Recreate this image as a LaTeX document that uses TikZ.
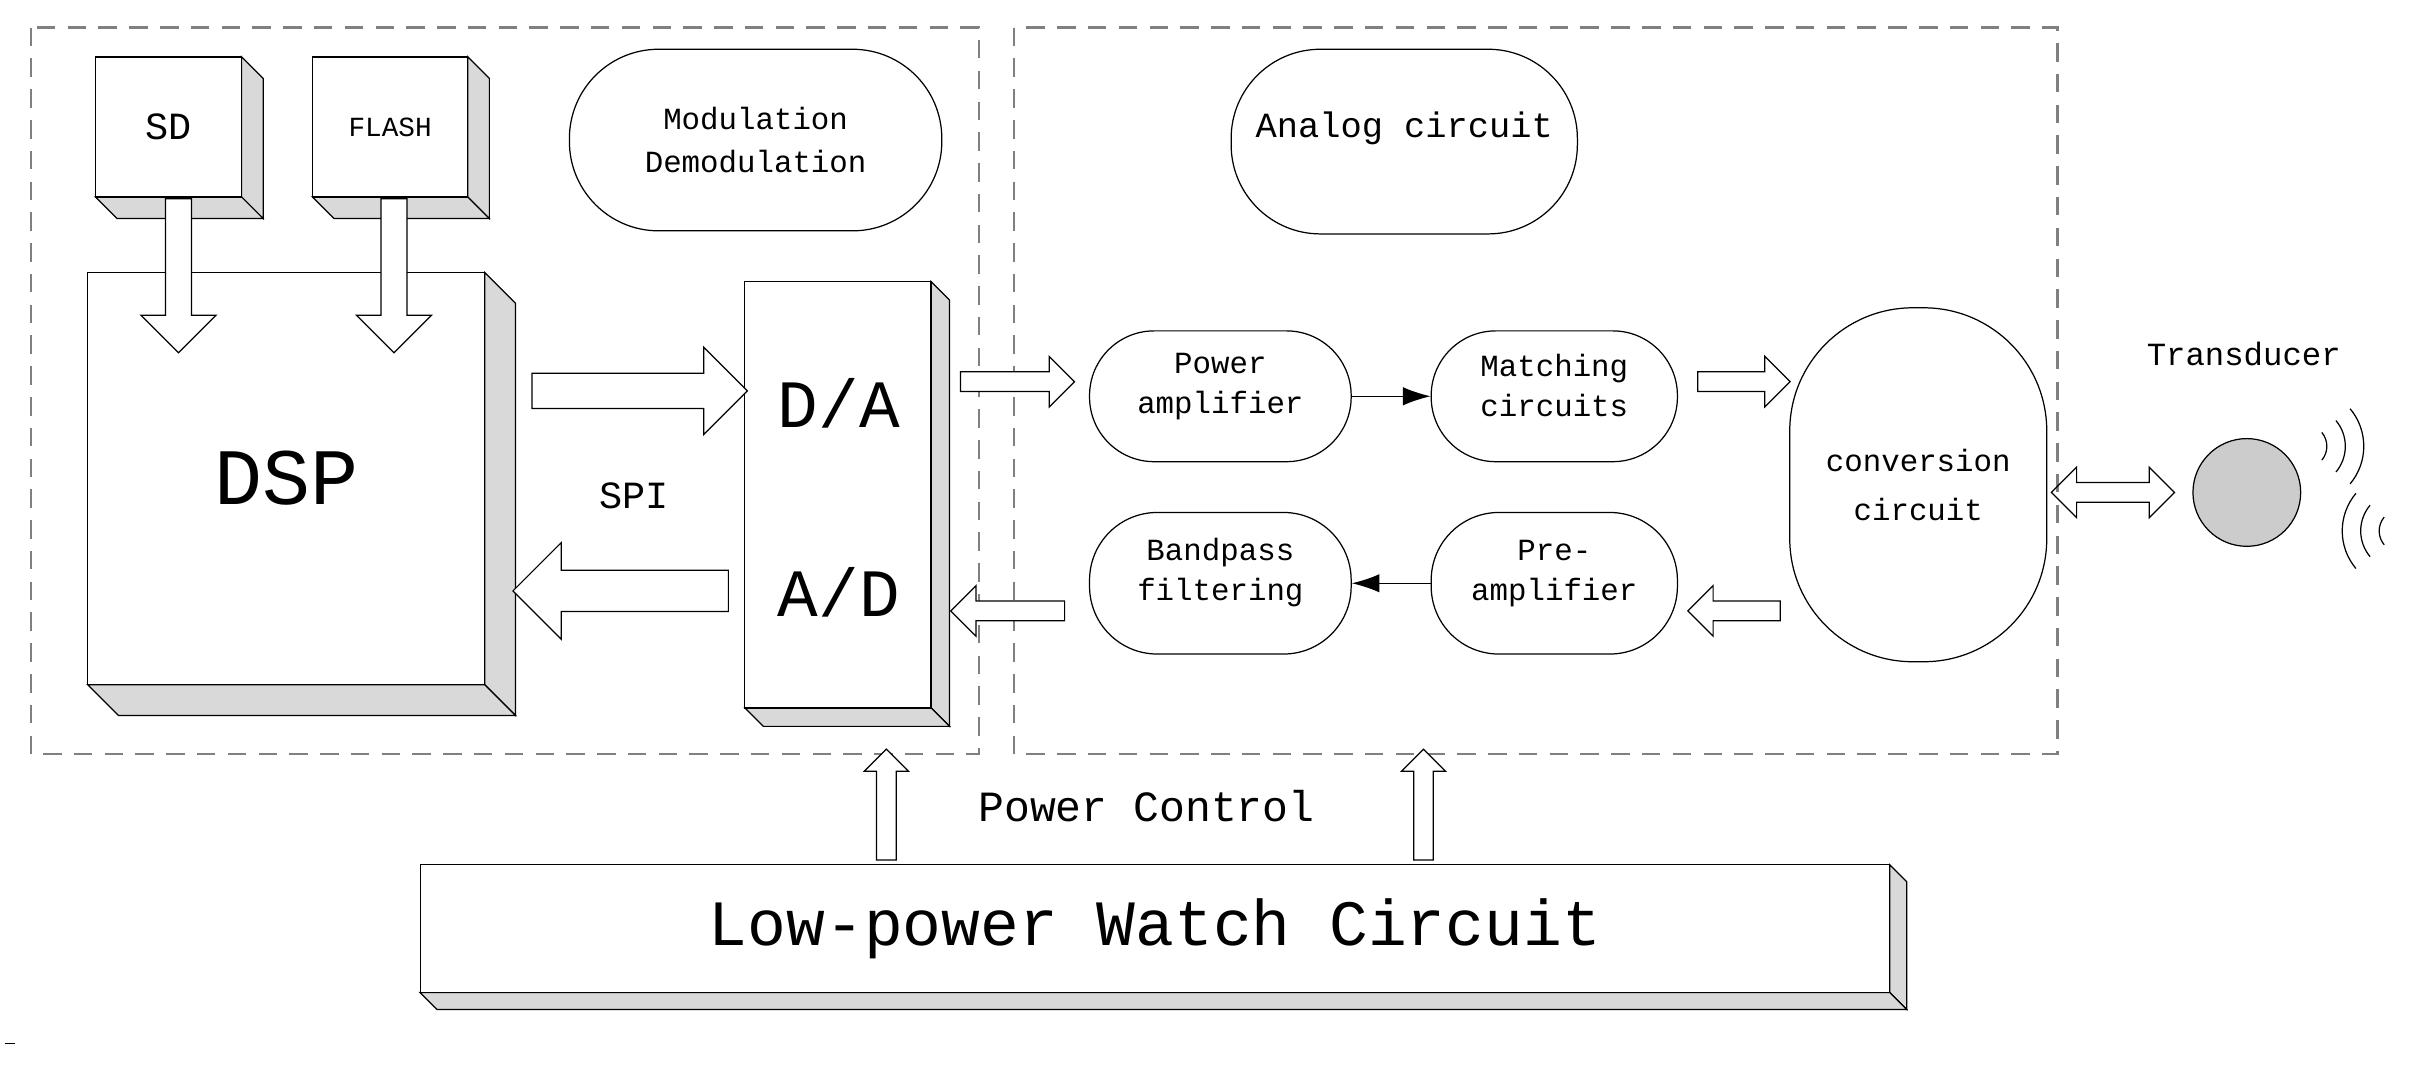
\documentclass[tikz,border=0pt]{standalone}
\usepackage{fontspec}
\setmainfont{Liberation Mono}
\usetikzlibrary{shapes.arrows,fit,positioning,arrows.meta}

\tikzset{
  blk/.style={draw, fill=white, inner sep=0pt},
  side/.style={draw, fill=gray!30},
  blob/.style={draw, rounded corners=#1, inner sep=0pt, align=center, font=\fontsize{10}{13}\selectfont},
  fatr/.style={draw, fill=white, single arrow, inner sep=#1, single arrow head indent=0pt},
  zone/.style={draw=gray, dashed, dash pattern=on 6pt off 4pt, thick},
}

% 3d box: name, x1, y1, x2, y2, depth
\newcommand{\boxthree}[6]{%
  \draw[side] (#4,#3) -- ++(#6,#6) -- (#4+#6,#5+#6) -- (#4,#5) -- cycle;
  \draw[side] (#2,#5) -- (#4,#5) -- (#4+#6,#5+#6) -- (#2+#6,#5+#6) -- cycle;
  \node[blk, fit={(#2,#3) (#4,#5)}] (#1) {};
}

\begin{document}
\begin{tikzpicture}[x=0.5pt, y=-0.5pt]
\useasboundingbox (0,0) rectangle (1568,697);

% dashed zones
	\draw[zone] (20,18) rectangle (636,490);
	\draw[zone] (659,18) rectangle (1337,490);

% digital part
	\boxthree{sd}{62}{37}{157}{128}{14}
	\boxthree{flash}{203}{37}{304}{128}{14}
	\boxthree{dsp}{57}{177}{315}{445}{20}
	\boxthree{conv}{484}{183}{605}{460}{12}
	\node[font=\fontsize{12.5}{14}\selectfont] at (sd) {SD};
	\node[font=\fontsize{9}{11}\selectfont] at (flash) {FLASH};
	\node[font=\fontsize{26}{30}\selectfont] at (dsp) {DSP};
	\node[font=\fontsize{22}{26}\selectfont] (da) at (545,262) {D/A};
	\node[font=\fontsize{22}{26}\selectfont] (ad) at (545,385) {A/D};
	\node[font=\fontsize{12.5}{14}\selectfont] (spi) at (412,322) {SPI};
	\node[blob=29pt, fit={(370,32) (612,150)}] (mod) {};
	\node[font=\fontsize{10}{14}\selectfont, align=center] at (mod) {Modulation\\Demodulation};

% hollow arrows
	\node[fatr=4pt, single arrow head extend=8pt, minimum height=50pt, shape border rotate=270] at (116,175) {};
	\node[fatr=4pt, single arrow head extend=8pt, minimum height=50pt, shape border rotate=270] at (256,175) {};
	\node[fatr=5.5pt, single arrow head extend=8.5pt, minimum height=70pt] at (410,254) {};
	\node[fatr=6.5pt, single arrow head extend=9pt, minimum height=70pt, shape border rotate=180] at (410,384) {};

% analog part
	\node[blob=29pt, fit={(800,32) (1025,152)}, font=\fontsize{11.5}{14}\selectfont] (ana) {Analog circuit};
	\node[blob=21pt, fit={(708,215) (878,300)}] (pa) {Power\\amplifier};
	\node[blob=21pt, fit={(930,215) (1090,300)}] (mc) {Matching\\circuits};
	\node[blob=22pt, fit={(708,333) (878,425)}] (bp) {Bandpass\\filtering};
	\node[blob=22pt, fit={(930,333) (1090,425)}] (pre) {Pre-\\amplifier};
	\node[draw, rounded corners=40pt, fit={(1163,200) (1330,430)}, inner sep=0pt] (cc) {};
	\node[align=center, font=\fontsize{10}{16}\selectfont] at (cc) {conversion\\circuit};

	\draw[-{Latex[length=9pt,width=6pt]}] (pa) -- (mc);
	\draw[-{Latex[length=9pt,width=6pt]}] (pre) -- (bp);
	\node[fatr=3pt, single arrow head extend=5pt, minimum height=37pt] at (658,248) {};
	\node[fatr=3pt, single arrow head extend=5pt, minimum height=30pt] at (1130,248) {};
	\node[fatr=3pt, single arrow head extend=5pt, minimum height=30pt, shape border rotate=180] at (1130,397) {};
	\node[fatr=3pt, single arrow head extend=5pt, minimum height=37pt, shape border rotate=180] at (658,397) {};
	\node[draw, double arrow, inner sep=3pt, double arrow head extend=5pt, double arrow head indent=0pt, minimum height=40pt] at (1373,320) {};

% transducer
	\node[draw, circle, fill=gray!40, minimum size=35pt] (td) at (1460,320) {};
	\node[font=\fontsize{10.5}{13}\selectfont] at (1458,230) {Transducer};
	\foreach \r in {14,26,38}
		\draw (1498,290) ++(-40:\r) arc (-40:40:\r);
	\foreach \r in {14,26,38}
		\draw (1560,345) ++(140:\r) arc (140:220:\r);

% watch circuit
	\boxthree{watch}{273}{562}{1228}{645}{11}
	\node[font=\fontsize{21}{25}\selectfont] at (watch) {Low-power Watch Circuit};
	\node[font=\fontsize{14}{16}\selectfont] at (745,524) {Power Control};
	\node[fatr=3pt, single arrow head extend=4pt, minimum height=36pt, shape border rotate=90] at (576,526) {};
	\node[fatr=3pt, single arrow head extend=4pt, minimum height=36pt, shape border rotate=90] at (925,526) {};
	\draw (3,678) -- (10,678);
\end{tikzpicture}
\end{document}
